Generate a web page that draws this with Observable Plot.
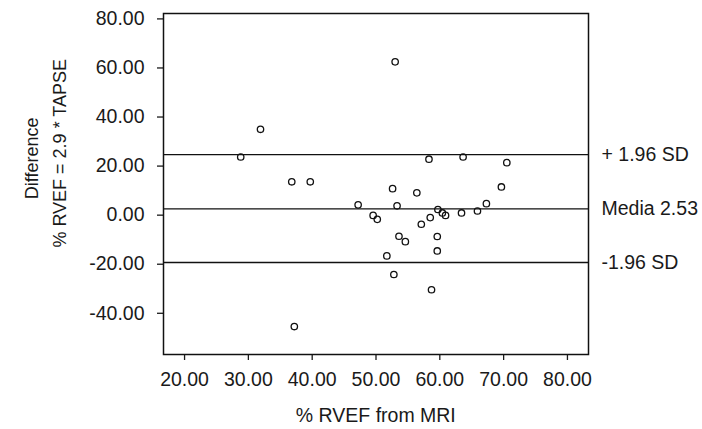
<!DOCTYPE html>
<html>
<head>
<meta charset="utf-8">
<script src="https://cdn.jsdelivr.net/npm/d3@7"></script>
<script src="https://cdn.jsdelivr.net/npm/@observablehq/plot@0.6"></script>
<style>
  html, body { margin: 0; padding: 0; background: #fff; }
  #chart svg { display: block; }
</style>
</head>
<body>
<div id="chart"></div>
<script>
// Data
const rvefMRI = [53.0, 31.9, 28.8, 36.8, 39.7, 52.6, 56.4, 58.3, 63.65, 70.5, 69.65, 47.2, 53.3, 49.55, 50.2, 59.7, 60.4, 60.9, 58.5, 57.1, 53.6, 54.6, 59.6, 59.6, 51.7, 52.8, 58.7, 37.2, 67.3, 65.9, 63.4];
const difference = [62.5, 35.0, 23.7, 13.6, 13.6, 10.8, 9.1, 22.8, 23.7, 21.4, 11.5, 4.2, 3.8, -0.1, -1.7, 2.3, 0.9, -0.1, -1.0, -3.7, -8.6, -10.8, -8.7, -14.6, -16.6, -24.2, -30.4, -45.4, 4.7, 1.7, 0.9];
const limitLabels = ["+ 1.96 SD", "Media 2.53", "-1.96 SD"];
const limitValues = [24.7, 2.53, -19.3];
const xTicks = [20, 30, 40, 50, 60, 70, 80];
const yTicks = [80, 60, 40, 20, 0, -20, -40];
const xTitle = "% RVEF from MRI";
const yTitle1 = "Difference";
const yTitle2 = "% RVEF = 2.9 * TAPSE";

const points = rvefMRI.map((x, i) => ({x, y: difference[i]}));
const limits = limitValues.map((v, i) => ({value: v, label: limitLabels[i]}));
const fmt = d => d.toFixed(2);

const ink = "#1a1a1a";
const font = "'Liberation Sans', Arial, Helvetica, sans-serif";

const chart = Plot.plot({
  width: 702,
  height: 429,
  marginLeft: 163,
  marginRight: 114,
  marginTop: 13,
  marginBottom: 75,
  style: {fontFamily: font, fontSize: "19.5px", color: ink, background: "#fff", overflow: "visible"},
  x: {domain: [16.7, 83.3]},
  y: {domain: [-56.8, 82.2]},
  marks: [
    Plot.axisX({ticks: xTicks, tickFormat: fmt, tickSize: 6, tickPadding: 12, label: null, fontSize: 19.5, strokeWidth: 1.3}),
    Plot.axisY({ticks: yTicks, tickFormat: fmt, tickSize: 6, tickPadding: 13, label: null, fontSize: 19.5, strokeWidth: 1.3}),
    Plot.ruleY(limits, {y: "value", stroke: "#111", strokeWidth: 1.3}),
    Plot.dot(points, {x: "x", y: "y", r: 3.2, stroke: "#111", strokeWidth: 1.3, fill: "none"}),
    Plot.text(limits, {y: "value", text: "label", frameAnchor: "right", dx: 13, textAnchor: "start", fontSize: 19.5, fill: ink}),
    Plot.frame({stroke: "#111", strokeWidth: 1.5})
  ]
});

const svg = d3.select(chart);
svg.append("text")
  .attr("x", 375.8).attr("y", 422)
  .attr("text-anchor", "middle")
  .attr("fill", ink).style("font-size", "19.5px").style("font-family", font)
  .text(xTitle);
svg.append("text")
  .attr("transform", "translate(37.5,158.3) rotate(-90)")
  .attr("text-anchor", "middle")
  .attr("fill", ink).style("font-size", "18px").style("font-family", font)
  .text(yTitle1);
svg.append("text")
  .attr("transform", "translate(66,153.3) rotate(-90)")
  .attr("text-anchor", "middle")
  .attr("fill", ink).style("font-size", "18px").style("font-family", font)
  .text(yTitle2);

document.getElementById("chart").appendChild(chart);
</script>
</body>
</html>
